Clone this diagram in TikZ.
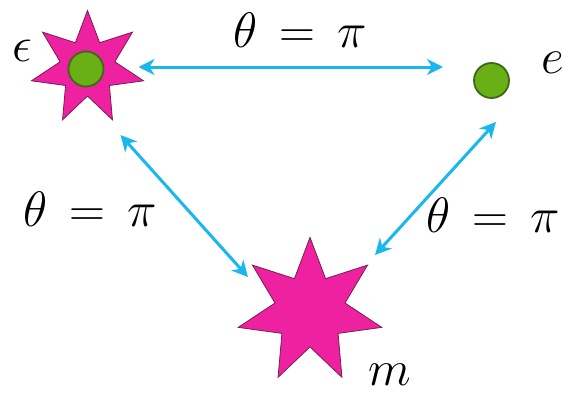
\documentclass[tikz,border=0pt]{standalone}
\usepackage{amssymb}
\usetikzlibrary{calc,shapes.geometric,arrows.meta}

\definecolor{starpink}{RGB}{238,34,160}
\definecolor{starline}{RGB}{120,30,80}
\definecolor{dotgreen}{RGB}{104,176,22}
\definecolor{dotline}{RGB}{62,104,24}
\definecolor{linkcyan}{RGB}{26,182,238}

\tikzset{
  starnode/.style={star,star points=7,star point ratio=2.05,fill=starpink,
    draw=starline,line width=0.4pt,inner sep=0pt},
  dotnode/.style={circle,fill=dotgreen,draw=dotline,line width=0.9pt,
    inner sep=0pt,minimum size=17.5pt},
  link/.style={linkcyan,line width=1.5pt,
    {Stealth[length=8pt,width=8pt,inset=2.5pt]}-{Stealth[length=8pt,width=8pt,inset=2.5pt]}},
  lbl/.style={inner sep=0pt,font=\fontsize{24}{30}\selectfont}
}

\begin{document}
\begin{tikzpicture}[x=0.5pt,y=-0.5pt]
    \useasboundingbox (0,0) rectangle (562,396);

    \node[starnode,minimum size=57.5pt] (eps) at (87.5,68) {};
    \node[dotnode] (epsdot) at (86,69) {};
    \node[dotnode] (e) at (491.5,80.5) {};
    \node[starnode,minimum size=73.6pt] (m) at (310,311) {};

    \coordinate (eps-r) at ($(eps)+(51,-1)$);
    \coordinate (eps-b) at ($(eps)+(33,67)$);
    \coordinate (e-l) at ($(e)+(-48.5,-13.5)$);
    \coordinate (e-b) at ($(e)+(4.5,41.5)$);
    \coordinate (m-l) at ($(m)+(-62,-34)$);
    \coordinate (m-r) at ($(m)+(65,-56)$);

    \draw[link] (eps-r) -- (e-l);
    \draw[link] (eps-b) -- (m-l);
    \draw[link] (e-b) -- (m-r);

    \node[lbl] (top) at (300,30) {$\theta\,=\,\pi$};
    \node[lbl] (left) at (90,209) {$\theta\,=\,\pi$};
    \node[lbl] (right) at (493,215) {$\theta\,=\,\pi$};
    \node[lbl] (epslbl) at (22,51) {$\epsilon$};
    \node[lbl] (elbl) at (553,63) {$e$};
    \node[lbl] (mlbl) at (390,375) {$m$};
  \end{tikzpicture}
\end{document}
